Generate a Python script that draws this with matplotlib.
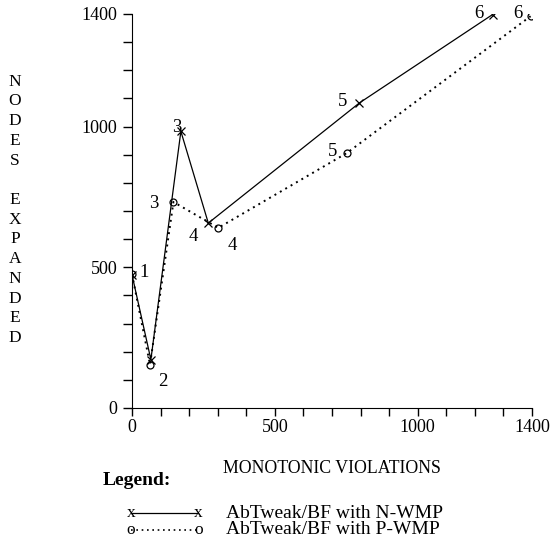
import matplotlib
matplotlib.use('Agg')
import matplotlib.pyplot as plt
from matplotlib.ticker import MultipleLocator, FixedLocator

plt.rcParams['font.family'] = ['Liberation Serif', 'DejaVu Serif']

# data
n_x = [0, 66, 171, 267, 796, 1262]
n_y = [473, 172, 983, 657, 1084, 1398]
p_x = [0, 63, 145, 302, 752, 1395]
p_y = [475, 154, 732, 640, 906, 1392]
point_ids = ['1', '2', '3', '4', '5', '6']

fig = plt.figure(figsize=(5.54, 5.48), dpi=100)
ax = fig.add_axes([0.2383, 0.2555, 0.722, 0.719])

ax.plot(n_x, n_y, color='black', lw=0.9, marker='x', ms=5.5, mew=0.9)
ax.plot(p_x, p_y, color='black', lw=1.4, ls=(0, (1, 2.2)), marker='o', ms=5,
        mfc='none', mew=0.9)

# point numbers (offsets in points)
n_off = [(9, 2), (0, 0), (-3, 3), (-11, -10), (-12, 1), (-10, 1)]
p_off = [(0, 0), (9, -12), (-14, -1), (10, -13), (-10, 1), (-9, 2)]
for i, lab in enumerate(point_ids):
    if n_off[i] != (0, 0):
        ax.annotate(lab, (n_x[i], n_y[i]), xytext=n_off[i], textcoords='offset points',
                    ha='center', va='center', fontsize=13.5)
    if p_off[i] != (0, 0):
        ax.annotate(lab, (p_x[i], p_y[i]), xytext=p_off[i], textcoords='offset points',
                    ha='center', va='center', fontsize=13.5)

ax.set_xlim(0, 1400)
ax.set_ylim(0, 1400)
ax.spines['top'].set_visible(False)
ax.spines['right'].set_visible(False)
ax.xaxis.set_major_locator(FixedLocator([0, 500, 1000, 1400]))
ax.xaxis.set_minor_locator(MultipleLocator(100))
ax.yaxis.set_major_locator(FixedLocator([0, 500, 1000, 1400]))
ax.yaxis.set_minor_locator(MultipleLocator(100))
ax.tick_params(which='both', direction='out', width=1, labelsize=13)
ax.tick_params(axis='y', which='both', length=6.5, pad=4)
ax.tick_params(axis='x', which='both', length=6, pad=2)

ax.set_xlabel('MONOTONIC VIOLATIONS', fontsize=12.8, labelpad=17)
fig.text(0.027, 0.617, 'N\nO\nD\nE\nS\n\nE\nX\nP\nA\nN\nD\nE\nD', ha='center',
         va='center', fontsize=12.5, linespacing=1.31)

fig.text(0.186, 0.124, 'Legend:', fontsize=14, fontweight='bold', ha='left', va='center')
leg_rows = [('x', '-', 'AbTweak/BF with N-WMP', 0.063),
            ('o', ':', 'AbTweak/BF with P-WMP', 0.033)]
for mk, ls, label, yy in leg_rows:
    lx = [0.236, 0.358]
    if ls == '-':
        fig.add_artist(plt.Line2D(lx, [yy, yy], color='black', lw=0.9))
    else:
        fig.add_artist(plt.Line2D(lx, [yy, yy], color='black', lw=1.2, ls=(0, (1, 2.2))))
    for x0 in lx:
        fig.text(x0, yy, mk, ha='center', va='center', fontsize=12.5)
    fig.text(0.408, yy, label, fontsize=14, ha='left', va='center')

fig.savefig('out.png', dpi=100)
